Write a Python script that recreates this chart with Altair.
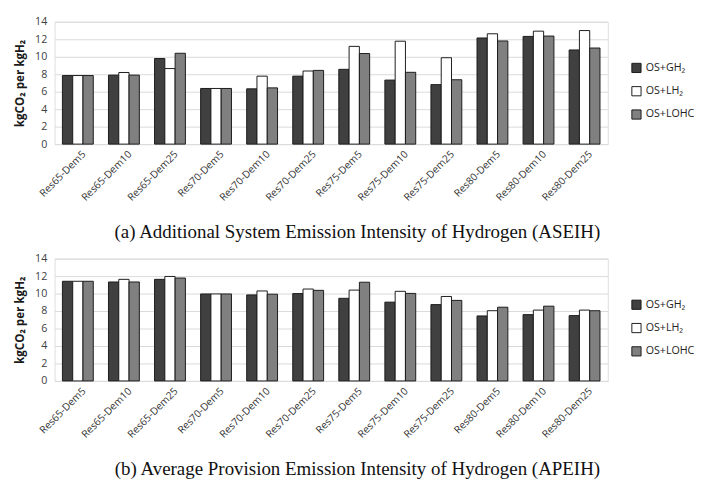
import altair as alt
import pandas as pd

scenarios = ["Res65-Dem5", "Res65-Dem10", "Res65-Dem25", "Res70-Dem5", "Res70-Dem10",
             "Res70-Dem25", "Res75-Dem5", "Res75-Dem10", "Res75-Dem25", "Res80-Dem5",
             "Res80-Dem10", "Res80-Dem25"]
series = ["OS+GH₂", "OS+LH₂", "OS+LOHC"]

# (a) ASEIH
a_gh2 = [7.85, 7.90, 9.80, 6.37, 6.33, 7.78, 8.56, 7.33, 6.81, 12.15, 12.33, 10.78]
a_lh2 = [7.85, 8.20, 8.65, 6.37, 7.78, 8.37, 11.19, 11.78, 9.89, 12.63, 12.93, 13.00]
a_lohc = [7.85, 7.90, 10.40, 6.37, 6.44, 8.44, 10.37, 8.22, 7.37, 11.81, 12.37, 11.00]

# (b) APEIH
b_gh2 = [11.41, 11.33, 11.63, 9.96, 9.85, 10.00, 9.46, 9.02, 8.74, 7.44, 7.59, 7.48]
b_lh2 = [11.41, 11.63, 11.96, 9.96, 10.30, 10.52, 10.40, 10.26, 9.67, 8.04, 8.11, 8.11]
b_lohc = [11.41, 11.33, 11.78, 9.96, 9.93, 10.37, 11.30, 10.02, 9.22, 8.44, 8.56, 8.04]

caption_a = "(a) Additional System Emission Intensity of Hydrogen (ASEIH)"
caption_b = "(b) Average Provision Emission Intensity of Hydrogen (APEIH)"
y_title = "kgCO₂ per kgH₂"
y_ticks = [0, 2, 4, 6, 8, 10, 12, 14]
colors = ["#404040", "#ffffff", "#808080"]


def make_df(gh, lh, lohc):
    rows = []
    for s, vals in zip(series, [gh, lh, lohc]):
        for sc, v in zip(scenarios, vals):
            rows.append({"scenario": sc, "series": s, "value": v})
    return pd.DataFrame(rows)


def panel(df, caption):
    return alt.Chart(df).mark_bar(stroke="#1a1a1a", strokeWidth=1).encode(
        x=alt.X("scenario:N", sort=scenarios, title=None,
                scale=alt.Scale(paddingInner=0.33, paddingOuter=0.17),
                axis=alt.Axis(labelAngle=-45, labelFont="Open Sans", labelFontSize=10.5,
                              labelColor="#333333", domain=False, ticks=False,
                              labelPadding=5, labelOffset=3)),
        xOffset=alt.XOffset("series:N", sort=series, scale=alt.Scale(paddingInner=0, paddingOuter=0)),
        y=alt.Y("value:Q", title=y_title, scale=alt.Scale(domain=[0, 14], nice=False),
                axis=alt.Axis(values=y_ticks, labelFont="Open Sans", labelFontSize=11,
                              labelColor="#404040", domain=False, ticks=False, labelPadding=8,
                              gridColor="#d9d9d9", gridWidth=1,
                              titleFont="Open Sans", titleFontSize=12, titleFontWeight="bold",
                              titleColor="#1a1a1a", titlePadding=8)),
        color=alt.Color("series:N", sort=series,
                        scale=alt.Scale(domain=series, range=colors),
                        legend=alt.Legend(title=None, orient="none", legendX=594, legendY=42,
                                          symbolType="square", symbolSize=90,
                                          symbolStrokeColor="#1a1a1a", symbolStrokeWidth=1,
                                          labelFont="Open Sans", labelFontSize=11,
                                          labelColor="#222222", rowPadding=9)),
    ).properties(
        width=570, height=126,
        title=alt.TitleParams(caption, orient="bottom", font="Liberation Serif", fontSize=19.5,
                              fontWeight="normal", color="#111111", offset=21, anchor="middle",
                              dx=27)
    )


top = panel(make_df(a_gh2, a_lh2, a_lohc), caption_a)
bottom = panel(make_df(b_gh2, b_lh2, b_lohc), caption_b)

chart = alt.vconcat(top, bottom, spacing=10,
                    padding={"left": 5, "top": 0, "right": 5, "bottom": 0}
                    ).resolve_legend(color="independent"
                    ).configure_view(stroke=None).configure(background="white")

chart.save("out.html", embed_options={"renderer": "svg", "actions": False})
